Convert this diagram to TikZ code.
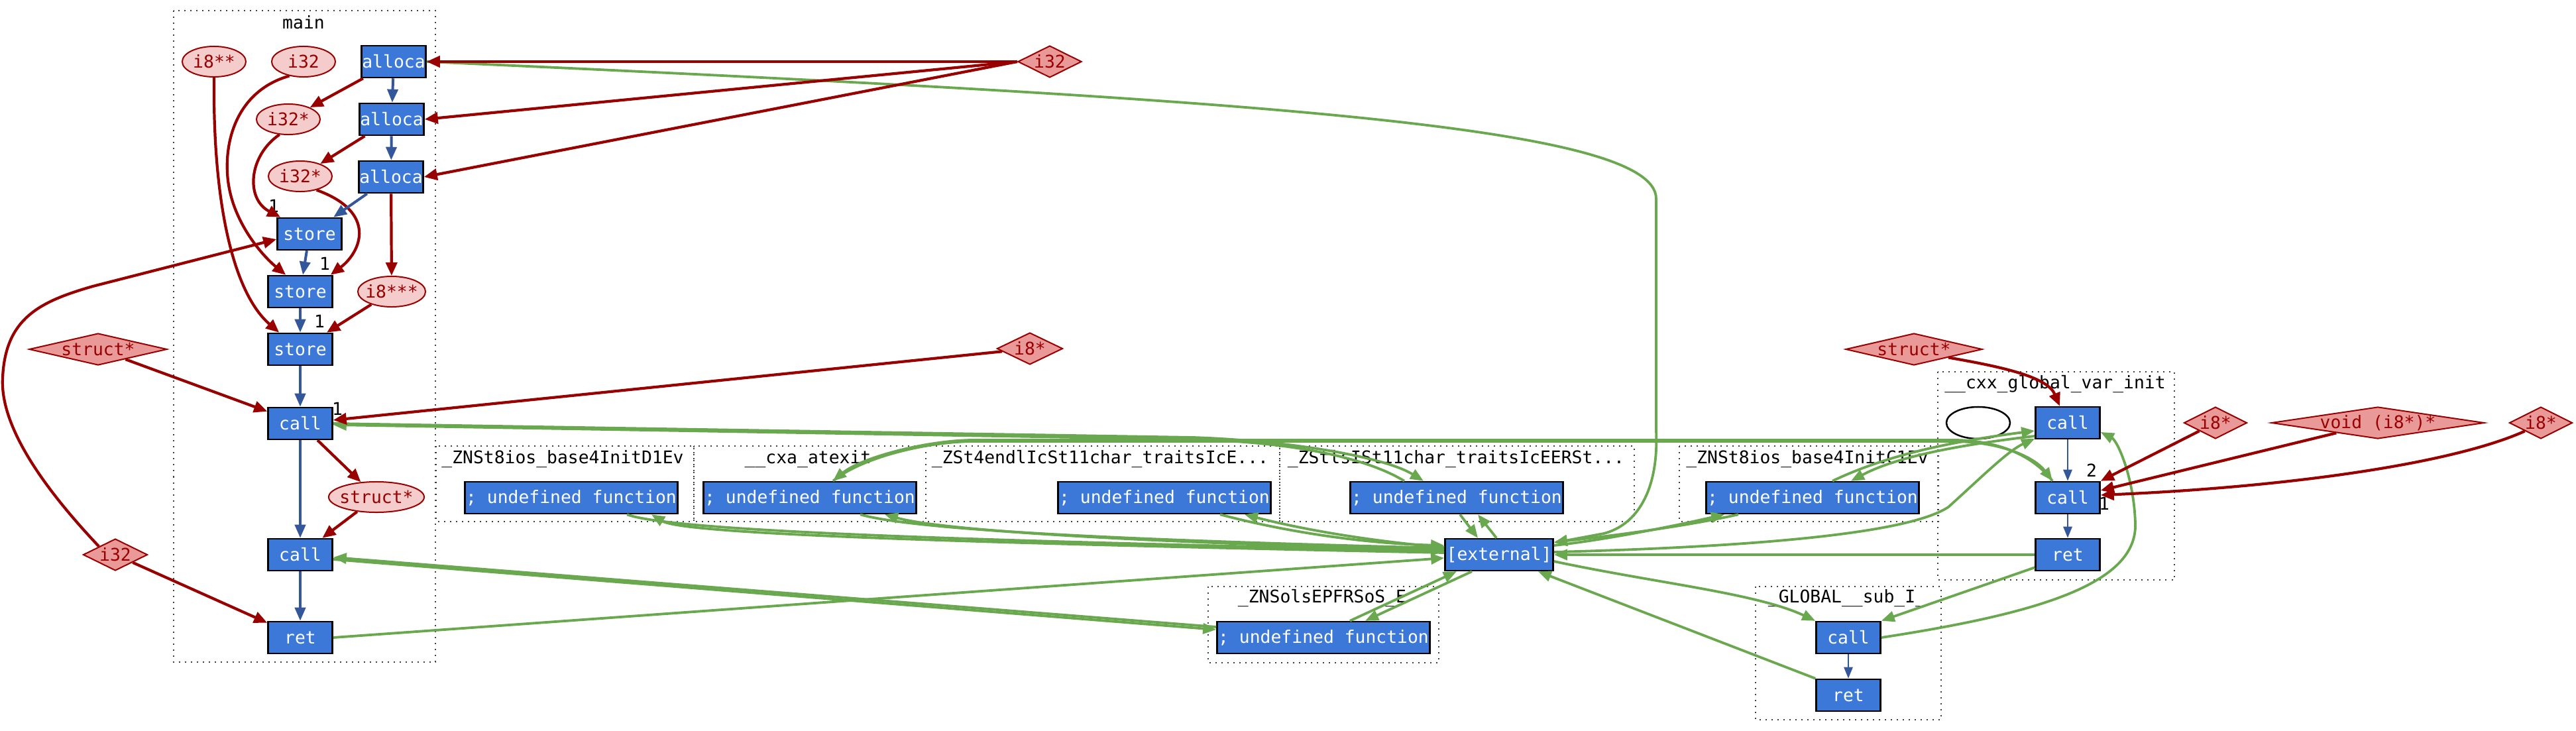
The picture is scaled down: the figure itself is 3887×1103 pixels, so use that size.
\documentclass[tikz,border=0pt]{standalone}
\usepackage{fontspec}
\newfontfamily\dmono{DejaVu Sans Mono}
\usetikzlibrary{shapes.geometric,arrows.meta,calc}
\definecolor{nblue}{HTML}{3C78D8}
\definecolor{epink}{HTML}{F4CCCC}
\definecolor{dpink}{HTML}{EA9999}
\definecolor{dred}{HTML}{990000}
\definecolor{egreen}{HTML}{6AA84F}
\definecolor{eblue}{HTML}{34569A}
\begin{document}
\begin{tikzpicture}[x=0.01cm,y=-0.01cm,
  every node/.style={font=\dmono\fontsize{7.5}{9}\selectfont, inner sep=0pt},
  inst/.style={rectangle, fill=nblue, draw=black, line width=0.025cm, text=white, minimum width=0.97cm, minimum height=0.48cm},
  undef/.style={inst, minimum width=3.21cm},
  tyell/.style={ellipse, fill=epink, draw=dred, line width=0.02cm, text=dred, minimum width=0.96cm, minimum height=0.46cm},
  tydia/.style={diamond, fill=dpink, draw=dred, line width=0.02cm, text=dred, minimum height=0.48cm},
  clus/.style={draw=black!75, line width=0.02cm, dash pattern=on 0.02cm off 0.07cm},
  clab/.style={text=black},
  elab/.style={text=black},
  rede/.style={draw=dred, line width=0.042cm, -{Triangle[length=0.2cm,width=0.17cm]}},
  bluee/.style={draw=eblue, line width=0.04cm, -{Triangle[length=0.2cm,width=0.16cm]}},
  bluet/.style={draw=eblue, line width=0.028cm, -{Triangle[length=0.17cm,width=0.13cm]}},
  gree/.style={draw=egreen, line width=0.038cm, -{Triangle[length=0.2cm,width=0.16cm]}}
]
\fill[white] (0,0) rectangle (3887,1103);
\useasboundingbox (0,0) rectangle (3887,1103);

% clusters
\draw[clus] (262,16) rectangle (657,999);
\node[clab] (lmain) at (458,34) {main};
\draw[clus] (658,673) rectangle (1047,787);
\node[clab] (lD1) at (849,693) {\_ZNSt8ios\_base4InitD1Ev};
\draw[clus] (1047,673) rectangle (1397,787);
\node[clab] (lcxa) at (1219,693) {\_\_cxa\_atexit};
\draw[clus] (1397,673) rectangle (1931,787);
\node[clab] (lendl) at (1660,693) {\_ZSt4endlIcSt11char\_traitsIcE...};
\draw[clus] (1931,673) rectangle (2466,787);
\node[clab] (lls) at (2197,693) {\_ZStlsISt11char\_traitsIcEERSt...};
\draw[clus] (2534,673) rectangle (2925,787);
\node[clab] (lC1) at (2727,693) {\_ZNSt8ios\_base4InitC1Ev};
\draw[clus] (1823,885) rectangle (2171,1000);
\node[clab] (lols) at (1995,903) {\_ZNSolsEPFRSoS\_E};
\draw[clus] (2649,885) rectangle (2929,1086);
\node[clab] (lglob) at (2787,903) {\_GLOBAL\_\_sub\_I\_};
\draw[clus] (2924,561) rectangle (3281,875);
\node[clab] (lcxx) at (3101,580) {\_\_cxx\_global\_var\_init};

% main nodes
\node[inst] (al1) at (594,93) {alloca};
\node[inst] (al2) at (591,180) {alloca};
\node[inst] (al3) at (590,267) {alloca};
\node[inst] (st1) at (467,353) {store};
\node[inst] (st2) at (453,440) {store};
\node[inst] (st3) at (453,527) {store};
\node[inst] (c1) at (453,639) {call};
\node[inst] (c2) at (453,837) {call};
\node[inst] (rt) at (453,962) {ret};
\node[tyell] (i8pp) at (323,93) {\makebox[0pt]{i8**}};
\node[tyell] (i32e) at (458,93) {\makebox[0pt]{i32}};
\node[tyell] (i32pa) at (435,180) {\makebox[0pt]{i32*}};
\node[tyell] (i32pb) at (453,266) {\makebox[0pt]{i32*}};
\node[tyell, minimum width=1.02cm] (i8ppp) at (591,440) {\makebox[0pt]{i8***}};
\node[tyell, minimum width=1.44cm] (sE) at (568,750) {\makebox[0pt]{struct*}};

% outside diamonds
\node[tydia, minimum width=0.96cm] (dI32) at (1584,93) {\makebox[0pt]{i32}};
\node[tydia, minimum width=2.08cm] (dS) at (148,527) {\makebox[0pt]{struct*}};
\node[tydia, minimum width=0.97cm] (dI32b) at (174,837) {\makebox[0pt]{i32}};
\node[tydia, minimum width=0.99cm] (dI8) at (1554,526) {\makebox[0pt]{i8*}};

% undefined functions
\node[undef] (uD1) at (862,751) {; undefined function};
\node[undef] (uCxa) at (1222,751) {; undefined function};
\node[undef] (uEndl) at (1757,751) {; undefined function};
\node[undef] (uLs) at (2198,751) {; undefined function};
\node[undef] (uC1) at (2735,751) {; undefined function};
\node[undef] (uOls) at (1997,962) {; undefined function};
\node[inst, minimum width=1.63cm] (ext) at (2262,837) {[external]};

% cxx global var init
\node[ellipse, draw=black, line width=0.025cm, minimum width=0.96cm, minimum height=0.48cm] (emp) at (2985,638) {};
\node[inst] (ca) at (3120,638) {call};
\node[inst] (cb) at (3120,751) {call};
\node[inst] (cr) at (3120,837) {ret};
\node[tydia, minimum width=2.06cm] (dS2) at (2888,527) {\makebox[0pt]{struct*}};
\node[tydia, minimum width=0.95cm] (dA) at (3343,638) {\makebox[0pt]{i8*}};
\node[tydia, minimum width=3.21cm] (dV) at (3588,638) {\makebox[0pt]{void (i8*)*}};
\node[tydia, minimum width=0.95cm] (dB) at (3834,638) {\makebox[0pt]{i8*}};

% global sub
\node[inst] (gc) at (2789,962) {call};
\node[inst] (gr) at (2789,1049) {ret};

% edge labels
\node[elab] (n1) at (413,311) {1};
\node[elab] (n2) at (490,398) {1};
\node[elab] (n3) at (482,485) {1};
\node[elab] (n4) at (509,617) {1};
\node[elab] (n5) at (3156,710) {2};
\node[elab] (n6) at (3175,760) {1};

% green edges
\draw[gree] (al1.east) .. controls (1900,150) and (2499,190) .. (2499,300) -- (2499,650) .. controls (2503,740) and (2470,792) .. (2420,805) -- ($(ext.east)+(0,-18)$);
\draw[gree] (c1.east) -- (1800,660) .. controls (1950,665) and (2090,690) .. ($(uLs.north)+(-50,0)$);
\draw[gree] ($(uLs.north)+(-79,0)$) .. controls (2060,690) and (1950,667) .. (1800,663) -- ($(c1.east)+(0,2)$);
\draw[gree] ($(cb.north)+(-23,0)$) .. controls (3070,690) and (3020,665) .. (2950,664) -- (1470,664) .. controls (1400,664) and (1300,690) .. ($(uCxa.north)+(35,0)$);
\draw[gree] ($(uCxa.north)+(35,0)$) .. controls (1300,690) and (1400,666) .. (1470,666) -- (2950,666) .. controls (3020,667) and (3070,690) .. ($(cb.north)+(-23,0)$);
\draw[gree] ($(c2.east)+(0,7)$) -- ($(uOls.west)+(0,-12)$);
\draw[gree] ($(uOls.west)+(0,-16)$) -- ($(c2.east)+(0,4)$);
\draw[gree] (rt.east) -- ($(ext.west)+(0,5)$);
\draw[gree] ($(uD1.south)+(84,0)$) .. controls (1010,800) and (1400,815) .. ($(ext.west)+(0,-6)$);
\draw[gree] ($(ext.west)+(0,-3)$) .. controls (1400,818) and (1030,805) .. ($(uD1.south)+(121,0)$);
\draw[gree] ($(uCxa.south)+(76,0)$) .. controls (1380,800) and (1700,815) .. ($(ext.west)+(0,-10)$);
\draw[gree] ($(ext.west)+(0,-7)$) .. controls (1700,818) and (1420,800) .. ($(uCxa.south)+(113,0)$);
\draw[gree] ($(uEndl.south)+(84,0)$) .. controls (1930,800) and (2050,820) .. ($(ext.west)+(0,-14)$);
\draw[gree] ($(ext.west)+(0,-11)$) .. controls (2050,815) and (1950,795) .. ($(uEndl.south)+(121,0)$);
\draw[gree] ($(uLs.south)+(5,0)$) -- ($(ext.north)+(-32,0)$);
\draw[gree] ($(ext.north)+(-4,0)$) -- ($(uLs.south)+(32,0)$);
\draw[gree] ($(uC1.south)+(-112,0)$) .. controls (2540,795) and (2420,810) .. ($(ext.east)+(0,-19)$);
\draw[gree] ($(ext.east)+(0,-14)$) .. controls (2420,815) and (2520,795) .. ($(uC1.south)+(-133,0)$);
\draw[gree] ($(uOls.north)+(40,0)$) -- ($(ext.south)+(-64,0)$);
\draw[gree] ($(ext.south)+(-41,0)$) -- ($(uOls.north)+(63,0)$);
\draw[gree] ($(uC1.north)+(30,0)$) .. controls (2840,690) and (2930,668) .. ($(ca.west)+(0,12)$);
\draw[gree] ($(ca.west)+(0,20)$) .. controls (2950,672) and (2860,690) .. ($(uC1.north)+(58,0)$);
\draw[gree] ($(ext.east)+(0,-4)$) .. controls (2650,825) and (2880,805) .. (2940,765) .. controls (2990,720) and (3030,680) .. ($(ca.west)+(0,24)$);
\draw[gree] (cr.west) -- (ext.east);
\draw[gree] ($(ext.east)+(0,10)$) .. controls (2500,880) and (2650,895) .. (gc.north west);
\draw[gree] (gr.north west) -- ($(ext.south east)+(-24,0)$);
\draw[gree] (gc.east) .. controls (3080,925) and (3225,880) .. (3222,790) .. controls (3220,720) and (3195,665) .. ($(ca.east)+(0,14)$);
\draw[gree] ($(cr.south west)+(0,-6)$) -- (gc.north east);

% red edges
\draw[rede] (dI32.west) -- (al1.east);
\draw[rede] (dI32.west) -- (al2.east);
\draw[rede] (dI32.west) -- (al3.east);
\draw[rede] (al1) -- (i32pa);
\draw[rede] (al2) -- (i32pb);
\draw[rede] (al3) -- (i8ppp);
\draw[rede] (i8ppp) -- (st3);
\draw[rede] (dS) -- (c1);
\draw[rede] (dI8) -- (c1);
\draw[rede] (c1) -- (sE);
\draw[rede] (sE) -- (c2);
\draw[rede] (dI32b) -- (rt);
\draw[rede] (i8pp.south) .. controls (321,300) and (350,440) .. ($(st3.north west)+(18,0)$);
\draw[rede] (i32e.225) .. controls (365,135) and (340,200) .. (343,260) .. controls (346,330) and (395,385) .. ($(st2.north west)+(28,0)$);
\draw[rede] (i32pa.240) .. controls (375,235) and (370,300) .. ($(st1.north west)+(6,0)$);
\draw[rede] (i32pb.-40) .. controls (570,320) and (545,380) .. ($(st2.north east)+(-4,0)$);
\draw[rede] (dI32b.north west) .. controls (60,730) and (0,640) .. (4,570) .. controls (8,480) and (60,455) .. (140,432) -- ($(st1.west)+(0,8)$);
\draw[rede] (dS2.south east) .. controls (3030,555) and (3090,570) .. ($(ca.north)+(-12,0)$);
\draw[rede] (dA) -- (cb.north east);
\draw[rede] (dV) -- ($(cb.east)+(0,-11)$);
\draw[rede] (dB.south west) .. controls (3700,700) and (3450,735) .. ($(cb.east)+(0,-4)$);

% blue edges
\draw[bluee] (al1) -- (al2);
\draw[bluee] (al2) -- (al3);
\draw[bluee] (al3) -- (st1);
\draw[bluee] (st1) -- (st2);
\draw[bluee] (st2) -- (st3);
\draw[bluee] (st3) -- (c1);
\draw[bluee] (c1) -- (c2);
\draw[bluee] (c2) -- (rt);
\draw[bluet] (ca) -- (cb);
\draw[bluet] (cb) -- (cr);
\draw[bluet] (gc) -- (gr);
\end{tikzpicture}
\end{document}
